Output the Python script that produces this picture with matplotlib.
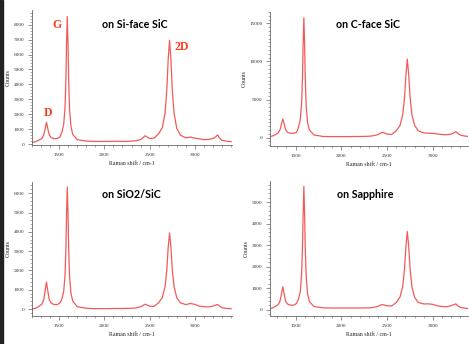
import matplotlib
matplotlib.use("Agg")
import matplotlib.pyplot as plt
from matplotlib.patches import Rectangle
from matplotlib.ticker import MultipleLocator

# shared Raman shift grid (cm-1)
shift = [1200, 1240, 1280, 1310, 1330, 1345, 1360, 1375, 1390, 1410, 1440, 1480,
         1510, 1530, 1550, 1565, 1575, 1582, 1590, 1598, 1605, 1615, 1630, 1650,
         1700, 1800, 1900, 2000, 2100, 2200, 2300, 2350, 2400, 2430, 2450, 2470,
         2500, 2550, 2600, 2640, 2670, 2690, 2705, 2720, 2735, 2750, 2770, 2800,
         2840, 2900, 2950, 3000, 3050, 3100, 3150, 3200, 3230, 3250, 3270, 3300,
         3350, 3400]

si_face = [120, 160, 280, 380, 620, 1020, 1470, 1030, 640, 450, 360, 380,
           480, 800, 1300, 2450, 4400, 6800, 8540, 6700, 4300, 2350, 1200, 650,
           300, 200, 180, 180, 190, 180, 200, 230, 300, 450, 560, 470,
           380, 400, 700, 1100, 2050, 3650, 5700, 6960, 5700, 3650, 2050, 1050,
           600, 420, 470, 400, 350, 300, 310, 380, 480, 620, 420, 250,
           200, 160]

c_face = [120, 180, 400, 650, 1050, 1800, 2450, 1800, 1050, 720, 580, 560,
          700, 1300, 2300, 4400, 8000, 12400, 15760, 12300, 7900, 4200, 2000, 1000,
          350, 150, 130, 130, 140, 150, 180, 250, 400, 600, 700, 620,
          460, 420, 900, 1600, 3000, 5350, 8300, 10300, 8300, 5350, 3000, 1600,
          900, 620, 570, 560, 480, 400, 380, 480, 620, 790, 560, 330,
          200, 150]

sio2 = [0, 40, 150, 260, 500, 930, 1400, 930, 500, 320, 240, 230,
        330, 520, 900, 1750, 3200, 4900, 6320, 4900, 3200, 1700, 820, 420,
        120, 40, 20, 20, 30, 30, 40, 60, 120, 200, 250, 210,
        150, 140, 330, 600, 1150, 2050, 3200, 3940, 3200, 2050, 1150, 580,
        320, 230, 290, 240, 150, 120, 110, 150, 200, 240, 160, 70,
        30, 20]

sapphire = [30, 60, 150, 230, 400, 720, 1060, 720, 400, 260, 210, 200,
            290, 470, 820, 1600, 2950, 4450, 5730, 4450, 2950, 1550, 750, 380,
            140, 80, 70, 70, 70, 70, 80, 100, 150, 210, 230, 210,
            170, 170, 330, 580, 1080, 1900, 2950, 3630, 2950, 1900, 1080, 560,
            330, 260, 265, 240, 170, 140, 130, 180, 230, 265, 180, 100,
            60, 45]

titles = ["on Si-face SiC", "on C-face SiC", "on SiO2/SiC", "on Sapphire"]

W, H = 469, 344
fig = plt.figure(figsize=(W / 100, H / 100), dpi=100)
fig.patch.set_facecolor("white")

line_color = "#f25a5a"
axis_color = "#666666"


def px_axes(l, t, r, b):
    return fig.add_axes([l / W, 1 - b / H, (r - l) / W, (b - t) / H])


def style(ax, xlim, ylim, ymajor, yminor):
    ax.set_xlim(*xlim)
    ax.set_ylim(*ylim)
    for s in ("top", "right"):
        ax.spines[s].set_visible(False)
    for s in ("left", "bottom"):
        ax.spines[s].set_color(axis_color)
        ax.spines[s].set_linewidth(0.6)
    ax.xaxis.set_major_locator(MultipleLocator(500))
    ax.xaxis.set_minor_locator(MultipleLocator(100))
    ax.yaxis.set_major_locator(MultipleLocator(ymajor))
    ax.yaxis.set_minor_locator(MultipleLocator(yminor))
    ax.tick_params(which="major", direction="out", length=3, width=0.5,
                   color=axis_color, labelsize=3.8, labelcolor="#333333", pad=2.5)
    ax.tick_params(which="minor", direction="out", length=1.6, width=0.4, color=axis_color)
    for lab in ax.get_xticklabels() + ax.get_yticklabels():
        lab.set_family("Liberation Serif")
    ax.set_xlabel("Raman shift / cm-1", family="Liberation Serif", fontsize=4.2,
                  color="#222222", labelpad=3)
    ax.set_ylabel("Counts", family="Liberation Serif", fontsize=4.2,
                  color="#222222", labelpad=2)
    ax.patch.set_alpha(0)


panels = [
    ((32, 10, 232, 145), (1200, 3410), (-60, 8980), 1000, 200, si_face),
    ((270, 12, 468, 146), (1220, 3383), (-1100, 16500), 5000, 500, c_face),
    ((32, 182, 232, 316), (1200, 3410), (-360, 6580), 1000, 200, sio2),
    ((270, 181, 468, 316), (1220, 3383), (-300, 5980), 1000, 200, sapphire),
]

axes = []
for (box, xl, yl, ymaj, ymin, ys) in panels:
    ax = px_axes(*box)
    ax.plot(shift, ys, color=line_color, lw=0.9)
    style(ax, xl, yl, ymaj, ymin)
    axes.append(ax)

title_pos = [(135, 24), (368, 24), (131, 194), (365, 194)]
for (x, y), t in zip(title_pos, titles):
    fig.text(x / W, 1 - y / H, t, ha="center", va="center", fontsize=7.7,
             fontweight="bold", family="Lato", color="black")

peak_color = "#ff3a1a"
for t, (x, y) in [("G", (57, 25)), ("D", (48, 113)), ("2D", (182, 47))]:
    fig.text(x / W, 1 - y / H, t, ha="center", va="center", fontsize=8.5,
             fontweight="bold", family="Liberation Serif", color=peak_color)

# dark strip at left edge of the screenshot
fig.patches.append(Rectangle((0, 0), 2.5 / W, 1, transform=fig.transFigure,
                             color="#222222", zorder=10))

fig.savefig("out.png", dpi=100)
